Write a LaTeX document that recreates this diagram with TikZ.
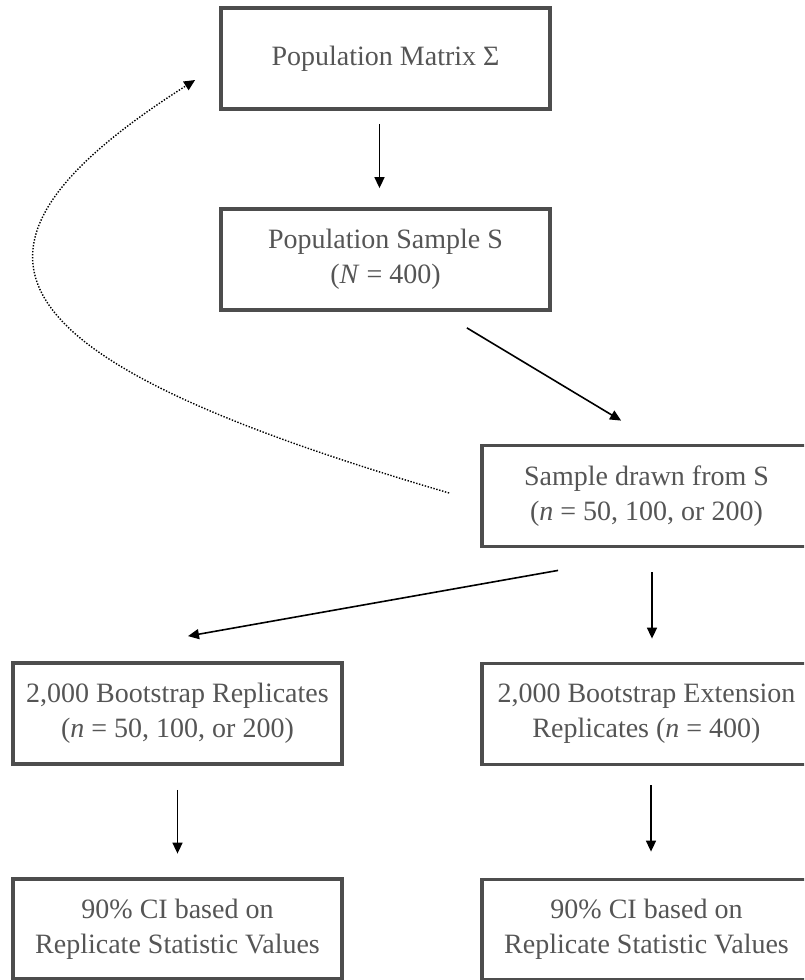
\documentclass[tikz,border=0pt]{standalone}
\usepackage{fontspec}
\setmainfont{Liberation Serif}
\usetikzlibrary{arrows.meta}
\definecolor{boxgray}{HTML}{4D4D4D}
\definecolor{textgray}{HTML}{555555}
\begin{document}
\begin{tikzpicture}[x=1pt,y=-1pt,
  box/.style={draw=boxgray, line width=3.8pt, minimum width=329pt, minimum height=101pt,
    inner sep=0pt, align=center, text=textgray, font=\fontsize{28}{35}\selectfont},
  arr/.style={draw=black, line width=1.6pt, -{Triangle[length=11pt,width=10pt]}},
  back/.style={draw=black, line width=1.4pt, dash pattern=on 1.4pt off 1.6pt,
    -{Triangle[length=11pt,width=10pt]}}]
\useasboundingbox (0,0) rectangle (804,980);
\clip (0,0) rectangle (804,980);
\node[box] (b1) at (385.5,58.5) {Population Matrix Σ};
\node[box] (b2) at (385.5,259.5) {Population Sample S\\(\textit{N} = 400)};
\node[box] (b3) at (646.5,496) {Sample drawn from S\\(\textit{n} = 50, 100, or 200)};
\node[box] (b4) at (177.5,713.5) {2,000 Bootstrap Replicates\\(\textit{n} = 50, 100, or 200)};
\node[box] (b5) at (646.5,714) {2,000 Bootstrap Extension\\Replicates (\textit{n} = 400)};
\node[box, minimum height=100pt] (b6) at (177.5,929) {90\% CI based on\\Replicate Statistic Values};
\node[box, minimum height=100pt] (b7) at (646.5,929.5) {90\% CI based on\\Replicate Statistic Values};
\coordinate (cs) at ([shift={(-31,-3)}]b3.west);
\coordinate (ce) at ([shift={(-24,21.5)}]b1.west);
\draw[arr] ([shift={(-6,13)}]b1.south) -- ([shift={(-6,-19)}]b2.north);
\draw[arr] ([shift={(-85,16)}]b2.south east) -- ([shift={(141,-23)}]b3.north west);
\draw[arr] ([shift={(78,22)}]b3.south west) -- ([shift={(10.5,-25)}]b4.north);
\draw[arr] ([shift={(5.5,24)}]b3.south) -- ([shift={(5.5,-23)}]b5.north);
\draw[arr] ([shift={(0,24)}]b4.south) -- ([shift={(0,-23.5)}]b6.north);
\draw[arr] ([shift={(4.5,19)}]b5.south) -- ([shift={(4.5,-26)}]b7.north);
\draw[back] (cs) .. controls (-5,360) and (-80,255) .. (ce);
\end{tikzpicture}
\end{document}
